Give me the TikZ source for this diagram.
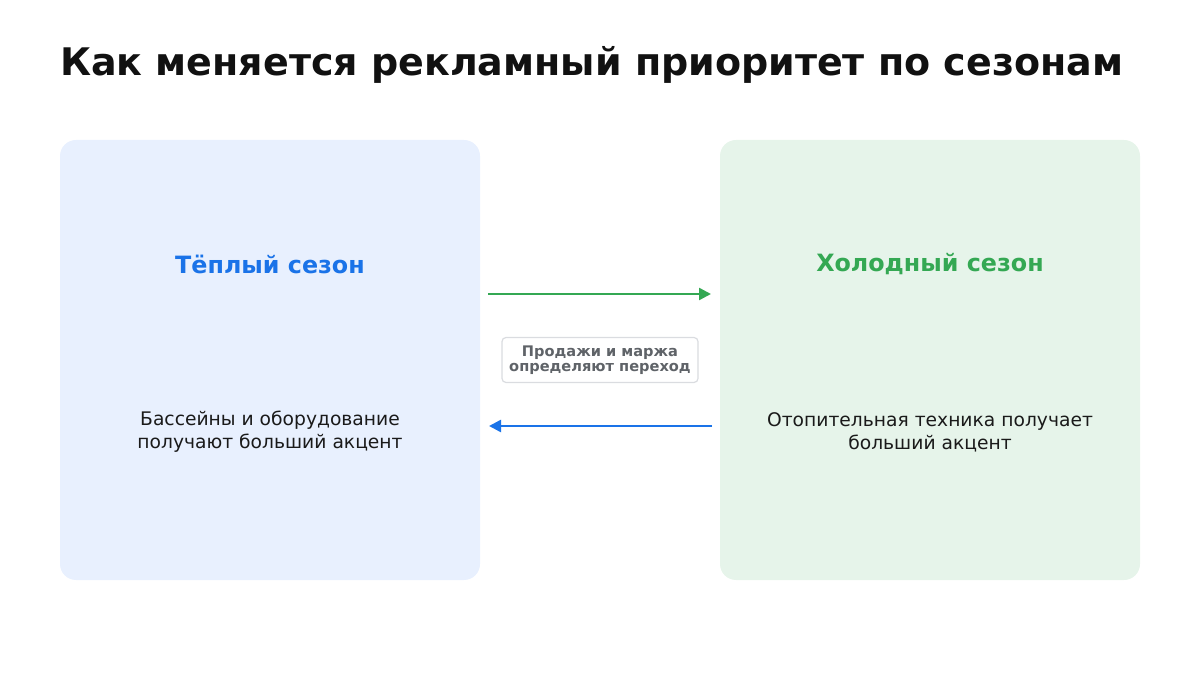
\documentclass[tikz,border=0pt]{standalone}
\usepackage{fontspec}
\setmainfont{DejaVu Sans}
\usetikzlibrary{arrows.meta}
\definecolor{warmfill}{HTML}{E8F0FE}
\definecolor{coldfill}{HTML}{E6F4EA}
\definecolor{warmc}{HTML}{1A73E8}
\definecolor{coldc}{HTML}{34A853}
\definecolor{titlec}{HTML}{111111}
\definecolor{bodyc}{HTML}{1A1A1A}
\definecolor{notec}{HTML}{5F6368}
\definecolor{noteborder}{HTML}{DADCE0}
\tikzset{
  x=1pt, y=-1pt,
  panel/.style={rounded corners=16pt, draw=none, minimum width=420pt, minimum height=440pt, inner sep=0pt},
  head/.style={font=\fontsize{23.8}{28}\selectfont\bfseries, inner sep=0pt},
  body/.style={font=\fontsize{18.7}{23}\selectfont, text=bodyc, align=center, inner sep=0pt},
  note/.style={font=\fontsize{14.6}{15.5}\selectfont\bfseries, text=notec, align=center, fill=white, draw=noteborder, line width=1.2pt, rounded corners=4pt, minimum width=196pt, minimum height=45pt, inner sep=2pt},
  conn/.style={line width=2.5pt, -{Triangle[length=12pt,width=12pt]}},
}
\begin{document}
\begin{tikzpicture}
\useasboundingbox (0,0) rectangle (1200,700);
\node[anchor=base west, font=\fontsize{38}{42}\selectfont\bfseries, text=titlec, inner sep=0pt] (title) at (60,76) {Как меняется рекламный приоритет по сезонам};
\node[panel, fill=warmfill] (warm) at (270,360) {};
\node[panel, fill=coldfill] (cold) at (930,360) {};
\node[head, text=warmc] (warmh) at (270,264.5) {Тёплый сезон};
\node[head, text=coldc] (coldh) at (930,264) {Холодный сезон};
\node[body] (warmb) at (270,432) {Бассейны и оборудование\\получают больший акцент};
\node[body] (coldb) at (930,432) {Отопительная техника получает\\больший акцент};
\node[note] (note) at (600,360) {Продажи и маржа\\определяют переход};
\coordinate (g1) at (488,294);
\coordinate (g2) at (711,294);
\coordinate (b1) at (712,426);
\coordinate (b2) at (489,426);
\draw[conn, draw=coldc, fill=coldc] (g1) -- (g2);
\draw[conn, draw=warmc, fill=warmc] (b1) -- (b2);
\end{tikzpicture}
\end{document}
